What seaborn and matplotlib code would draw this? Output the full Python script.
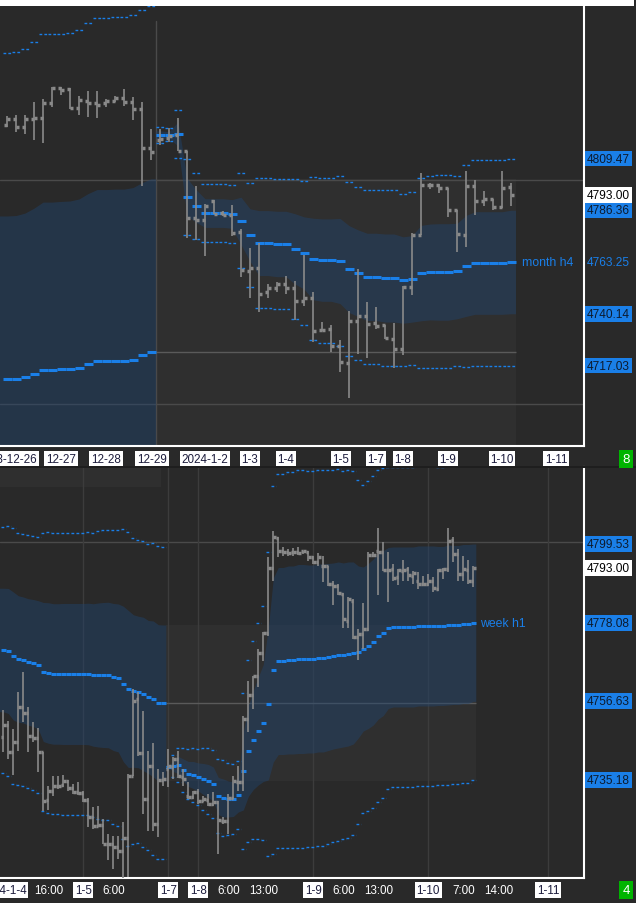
import matplotlib
matplotlib.use('Agg')
import matplotlib.pyplot as plt
import matplotlib.transforms as mtrans
from matplotlib.patches import Rectangle
import seaborn as sns
import numpy as np

# ---------------- month h4 panel (top) ----------------
h4_open = [4824.5, 4827.0, 4823.5, 4827.0, 4827.5, 4834.25, 4841.0, 4840.5, 4832.0, 4835.25,
           4834.25, 4834.25, 4835.25, 4836.5, 4834.75, 4831.5, 4814.25, 4817.75, 4818.5, 4820.0,
           4812.75, 4783.0, 4782.0, 4790.5, 4785.0, 4784.25, 4776.5, 4759.25, 4760.5, 4750.0,
           4751.5, 4753.5, 4751.5, 4745.75, 4747.25, 4733.0, 4733.25, 4725.75, 4718.0, 4737.0,
           4739.0, 4736.0, 4735.0, 4729.0, 4724.5, 4752.0, 4775.25, 4797.5, 4797.5, 4796.25,
           4786.5, 4775.25, 4797.25, 4790.5, 4791.5, 4787.75, 4796.75]
h4_high = [4828.5, 4829.0, 4829.0, 4834.75, 4836.0, 4841.5, 4841.5, 4841.0, 4837.5, 4839.5,
           4839.5, 4836.0, 4837.5, 4840.5, 4837.0, 4834.75, 4822.5, 4822.5, 4823.0, 4827.5,
           4812.75, 4797.25, 4789.25, 4791.0, 4786.0, 4788.75, 4778.0, 4769.5, 4771.75, 4753.5,
           4754.25, 4757.0, 4754.75, 4766.5, 4750.0, 4736.5, 4735.0, 4728.5, 4741.5, 4760.0,
           4745.5, 4743.25, 4735.0, 4736.0, 4752.5, 4776.25, 4803.0, 4798.5, 4798.0, 4796.25,
           4786.5, 4804.0, 4800.0, 4795.0, 4791.5, 4804.0, 4798.5]
h4_low = [4823.5, 4821.25, 4820.5, 4817.75, 4816.5, 4832.5, 4837.75, 4831.5, 4829.0, 4828.0,
          4827.5, 4832.5, 4834.75, 4833.0, 4826.75, 4797.25, 4808.75, 4815.5, 4816.75, 4812.75,
          4774.0, 4773.0, 4766.0, 4784.75, 4783.75, 4775.0, 4756.5, 4747.25, 4741.0, 4747.25,
          4750.0, 4749.0, 4737.5, 4743.5, 4727.5, 4732.5, 4723.0, 4714.0, 4702.5, 4722.25,
          4720.5, 4733.25, 4729.0, 4716.0, 4721.75, 4748.5, 4775.25, 4796.0, 4794.0, 4783.5,
          4767.75, 4770.0, 4784.25, 4788.25, 4786.5, 4787.5, 4788.25]
h4_close = [4827.0, 4823.5, 4827.0, 4827.5, 4834.25, 4841.0, 4840.0, 4832.0, 4835.5, 4834.25,
            4833.5, 4835.25, 4836.5, 4834.75, 4831.5, 4814.25, 4812.5, 4818.25, 4819.5, 4812.75,
            4783.0, 4782.0, 4788.25, 4784.75, 4784.25, 4776.25, 4759.75, 4760.5, 4749.0, 4751.5,
            4753.5, 4751.5, 4745.75, 4747.25, 4732.5, 4733.0, 4725.75, 4718.5, 4737.0, 4739.0,
            4735.5, 4734.75, 4729.25, 4724.5, 4752.0, 4775.25, 4797.5, 4797.5, 4796.25, 4786.5,
            4775.75, 4797.25, 4790.5, 4791.5, 4787.75, 4796.25, 4793.0]
# anchored vwap (month) and its standard deviation, new anchor starts at bar 17
h4_vwap = [4711.0, 4711.0, 4711.9, 4713.2, 4715.0, 4715.0, 4715.5, 4715.5, 4715.9, 4717.7,
           4719.0, 4719.0, 4719.0, 4719.0, 4719.5, 4721.7, 4723.1,
           4820.0, 4820.0, 4820.4, 4792.3, 4788.3, 4785.1, 4785.1, 4785.1, 4784.7, 4781.6,
           4775.3, 4771.7, 4771.7, 4771.3, 4771.3, 4769.1, 4767.3, 4764.6, 4764.1, 4764.1,
           4763.7, 4760.1, 4758.3, 4756.6, 4756.6, 4756.1, 4756.1, 4755.2, 4755.7, 4758.3,
           4758.8, 4758.8, 4758.8, 4759.2, 4761.5, 4762.8, 4762.8, 4762.8, 4762.8, 4763.25]
h4_sigma = [72.8, 73.0, 73.2, 74.1, 75.0, 75.0, 74.8, 75.0, 75.5, 76.1, 76.6, 76.6, 76.8, 76.8,
            77.0, 77.0, 77.3,
            1.8, 1.45, 5.4, 8.4, 7.3, 6.4, 6.4, 6.4, 6.4, 10.6, 11.7, 14.5, 14.5, 14.6, 14.6,
            15.7, 16.1, 18.2, 18.4, 18.4, 19.0, 19.4, 19.3, 19.5, 19.5, 19.65, 19.65, 19.3, 19.3,
            21.3, 21.4, 21.55, 21.55, 21.3, 22.55, 22.9, 22.9, 22.9, 22.9, 23.11]
h4_anchor = 17
h4_ticks = [0, 6, 11, 16.1, 22, 27, 31, 37.1, 41, 44, 49, 55, 61]
h4_tick_labels = ['2023-12-26', '12-27', '12-28', '12-29', '2024-1-2', '1-3', '1-4', '1-5',
                  '1-7', '1-8', '1-9', '1-10', '1-11']

# ---------------- week h1 panel (bottom) ----------------
h1_open = [4747.0, 4750.25, 4742.75, 4745.5, 4755.0, 4753.5, 4747.25, 4746.75, 4742.75, 4729.75,
           4732.25, 4733.5, 4733.75, 4735.0, 4733.0, 4732.0, 4731.75, 4729.75, 4725.0, 4722.75,
           4723.0, 4717.75, 4717.75, 4717.0, 4715.75, 4719.5, 4736.25, 4757.25, 4742.5, 4730.0,
           4739.0, 4723.25, 4735.25, 4738.25, 4738.75, 4741.0, 4736.0, 4730.75, 4730.5, 4732.0,
           4729.5, 4729.75, 4728.75, 4729.25, 4724.0, 4724.0, 4730.25, 4734.75, 4734.75, 4751.75,
           4758.25, 4763.5, 4769.75, 4775.25, 4793.0, 4801.25, 4797.5, 4797.25, 4797.25, 4797.25,
           4797.5, 4797.25, 4796.0, 4794.75, 4793.5, 4793.5, 4788.5, 4788.0, 4786.0, 4778.5,
           4784.0, 4774.25, 4775.0, 4776.25, 4796.5, 4797.75, 4797.25, 4792.5, 4792.75, 4790.5,
           4792.25, 4792.75, 4790.75, 4789.5, 4788.5, 4788.75, 4789.5, 4787.25, 4792.5, 4792.75,
           4800.5, 4796.75, 4791.25, 4792.5, 4789.5]
h1_high = [4754.25, 4751.25, 4749.0, 4759.25, 4764.75, 4755.0, 4751.0, 4749.25, 4742.75, 4733.5,
           4736.25, 4736.25, 4736.5, 4735.25, 4734.0, 4734.75, 4732.25, 4730.25, 4727.75, 4728.0,
           4724.5, 4720.5, 4720.0, 4720.0, 4723.75, 4736.75, 4760.0, 4759.25, 4754.0, 4743.0,
           4745.25, 4738.25, 4737.5, 4743.75, 4741.5, 4743.0, 4738.25, 4734.75, 4732.25, 4732.75,
           4730.75, 4731.5, 4732.0, 4729.5, 4725.0, 4731.5, 4736.25, 4739.0, 4752.75, 4762.25,
           4763.5, 4771.0, 4775.5, 4796.0, 4803.0, 4801.5, 4798.75, 4798.25, 4798.5, 4798.75,
           4797.75, 4797.5, 4796.25, 4797.0, 4796.25, 4793.5, 4789.5, 4788.75, 4786.25, 4785.0,
           4784.5, 4776.25, 4783.5, 4797.25, 4797.25, 4804.0, 4800.0, 4797.25, 4794.0, 4792.75,
           4795.25, 4793.25, 4792.25, 4792.0, 4790.75, 4791.25, 4790.5, 4792.75, 4793.0, 4804.0,
           4801.5, 4798.25, 4796.25, 4795.25, 4793.5]
h1_low = [4742.75, 4741.0, 4736.5, 4743.0, 4751.0, 4742.75, 4745.5, 4737.5, 4726.75, 4727.0,
          4730.75, 4732.75, 4733.25, 4732.25, 4731.5, 4731.0, 4729.25, 4722.5, 4721.75, 4722.5,
          4717.75, 4713.5, 4711.0, 4713.75, 4708.5, 4708.75, 4736.25, 4741.75, 4726.0, 4721.25,
          4721.25, 4719.75, 4733.5, 4733.25, 4735.5, 4735.75, 4733.5, 4730.0, 4730.0, 4728.75,
          4729.25, 4728.0, 4728.0, 4715.0, 4723.25, 4720.5, 4730.0, 4732.25, 4732.25, 4748.25,
          4754.5, 4760.5, 4767.75, 4774.5, 4789.5, 4796.0, 4796.25, 4796.25, 4796.25, 4796.5,
          4796.75, 4795.0, 4794.0, 4793.5, 4789.25, 4788.0, 4783.0, 4785.5, 4776.75, 4776.75,
          4773.75, 4768.0, 4771.0, 4775.75, 4796.0, 4785.5, 4792.25, 4783.75, 4789.5, 4788.25,
          4789.5, 4789.5, 4788.5, 4787.25, 4788.0, 4788.0, 4786.5, 4786.75, 4790.0, 4792.0,
          4794.5, 4789.5, 4789.5, 4788.5, 4787.75]
h1_close = [4750.25, 4742.75, 4745.5, 4755.0, 4753.5, 4747.25, 4746.75, 4742.75, 4729.5, 4732.25,
            4733.5, 4733.5, 4735.0, 4733.0, 4732.0, 4731.75, 4729.75, 4725.0, 4722.75, 4723.0,
            4717.75, 4717.75, 4717.0, 4715.75, 4719.5, 4736.25, 4756.75, 4742.5, 4730.0, 4739.0,
            4723.25, 4735.25, 4735.5, 4739.0, 4741.0, 4736.25, 4735.5, 4730.5, 4732.0, 4729.5,
            4730.0, 4728.75, 4729.25, 4724.25, 4724.0, 4730.25, 4735.0, 4734.75, 4751.75, 4758.25,
            4763.5, 4769.75, 4775.25, 4793.0, 4801.5, 4797.5, 4797.25, 4797.0, 4797.25, 4797.0,
            4797.5, 4796.0, 4794.75, 4796.0, 4793.5, 4788.5, 4788.0, 4786.25, 4779.0, 4784.5,
            4774.25, 4775.0, 4776.25, 4796.5, 4796.5, 4797.25, 4792.5, 4792.5, 4790.25, 4792.5,
            4792.5, 4791.0, 4791.5, 4788.5, 4788.5, 4789.5, 4787.5, 4792.5, 4792.75, 4800.25,
            4796.75, 4791.25, 4792.75, 4789.5, 4793.0]
# anchored vwap (week) and its standard deviation, new anchor starts at bar 33
h1_vwap = [4770.64, 4770.37, 4769.0, 4768.18, 4767.91, 4767.37, 4767.09, 4766.55, 4764.64, 4764.37,
           4764.1, 4764.1, 4764.1, 4764.1, 4764.1, 4764.1, 4764.1, 4764.1,
           4763.82, 4763.82, 4763.82, 4763.82, 4763.28, 4763.01, 4761.37, 4760.01, 4759.46,
           4759.19, 4758.64, 4757.83, 4757.28, 4756.19, 4756.19,
           4738.74, 4739.02, 4739.29, 4737.93, 4736.84, 4736.56, 4736.02, 4735.47, 4734.93,
           4734.11, 4730.84, 4730.29, 4730.02, 4730.02, 4731.11, 4737.65, 4743.11, 4746.10,
           4748.56, 4750.74, 4755.92, 4765.19, 4767.64, 4767.64, 4767.91, 4767.91,
           4768.18, 4768.18, 4768.18, 4768.18, 4768.46, 4768.46, 4768.73, 4769.0, 4769.28,
           4769.28, 4769.55, 4769.82, 4770.09, 4770.91, 4771.73, 4772.82, 4774.45, 4775.27,
           4776.64, 4776.91, 4776.91, 4776.91, 4776.91, 4776.91, 4777.18, 4777.18, 4777.18,
           4777.18, 4777.18, 4777.18, 4777.45, 4777.45, 4777.45, 4777.73, 4777.73, 4778.08]
h1_sigma = [16.83, 17.04, 17.45, 17.24, 17.17, 17.24, 17.31, 17.51, 18.95, 19.15, 19.15, 19.15,
            19.22, 19.22, 19.22, 19.22, 19.22, 19.29, 19.42, 19.63, 19.76, 19.83, 20.04, 20.17,
            21.19, 21.40, 20.79, 20.65, 20.92, 20.85, 21.26, 21.33, 21.26,
            0.14, 1.50, 2.32, 3.00, 3.41, 3.68, 3.82, 4.23, 4.50, 4.63, 5.04, 5.18, 4.91, 4.77,
            4.63, 10.63, 12.40, 13.49, 14.72, 15.95, 20.72, 25.08, 25.49, 25.49, 25.62, 25.62,
            25.76, 25.76, 25.62, 25.62, 25.62, 25.62, 25.49, 25.35, 25.35, 25.08, 25.08, 24.81,
            23.44, 22.35, 22.49, 22.63, 22.63, 22.49, 21.94,
            21.81, 21.81, 21.81, 21.81, 21.81, 21.81, 21.81, 21.81, 21.81, 21.67, 21.67, 21.81,
            21.67, 21.67, 21.67, 21.67, 21.45]
h1_anchor = 33
h1_older_band = [4815.0, 4830.0]
h1_ticks = [0, 9, 16, 22, 33, 39, 45, 52, 62, 68, 75, 85, 92, 99, 109]
h1_tick_labels = ['2024-1-4', '16:00', '1-5', '6:00', '1-7', '1-8', '6:00', '13:00', '1-9',
                  '6:00', '13:00', '1-10', '7:00', '14:00', '1-11']

BG = '#292929'
BOX = '#2f2f2f'
BLUE = '#1a7fe8'
BAND = '#20446f'
BARC = '#8a8a8a'
LVL = '#4a4a4a'

sns.set_theme(style='dark', rc={'axes.facecolor': BG, 'figure.facecolor': BG,
                                'grid.color': LVL, 'grid.linewidth': 1.0,
                                'axes.axisbelow': True})
plt.rcParams['font.family'] = ['Liberation Sans', 'DejaVu Sans']

fig = plt.figure(figsize=(6.36, 9.04), dpi=100)
ax1 = fig.add_axes([0, 1 - 447 / 904, 584 / 636, 440 / 904])
ax2 = fig.add_axes([0, 1 - 879 / 904, 584 / 636, 411 / 904])


def draw_panel(ax, o, h, l, c, mid, sig, split, tick_w):
    o, h, l, c = map(np.asarray, (o, h, l, c))
    mid, sig = np.asarray(mid), np.asarray(sig)
    n = len(o)
    x = np.arange(n)
    # previous period level box and vwap line carried forward
    pm, ps = mid[split - 1], sig[split - 1]
    ax.add_patch(Rectangle((split - 0.5, pm - ps), n - split, 2 * ps,
                           fc=BOX, ec='none', zorder=0.2))
    ax.hlines(pm, split - 0.5, n - 0.5, color='#5a5a5a', lw=1, zorder=1)
    # bands
    for seg in (slice(0, split), slice(split, n)):
        xs, m, s = x[seg], mid[seg], sig[seg]
        left = -1.5 if xs[0] == 0 else xs[0] - 0.5
        xx = np.r_[left, xs, xs[-1] + 0.5]
        mm = np.r_[m[0], m, m[-1]]
        ss = np.r_[s[0], s, s[-1]]
        ax.fill_between(xx, mm - ss, mm + ss, color=BAND, alpha=0.45, lw=0, zorder=2)
    ax.hlines(mid, x - 0.5, x + 0.5, color=BLUE, lw=2.2, zorder=4)
    for k in (2, -2):
        col = ax.hlines(mid + k * sig, x - 0.5, x + 0.5, color=BLUE, lw=1, zorder=4)
        col.set_linestyle((0, (2, 1.5)))
    # ohlc bars
    ax.vlines(x, l, h, color=BARC, lw=1.2, zorder=5)
    ax.hlines(o, x - tick_w, x, color=BARC, lw=2.5, zorder=5)
    ax.hlines(c, x, x + tick_w, color=BARC, lw=2.5, zorder=5)
    return mid[-1], sig[-1], c[-1]


def style_axes(ax, ticks, labels, label_y, xlim, ylim):
    for side in ('left', 'top'):
        ax.spines[side].set_visible(False)
    for side in ('right', 'bottom'):
        ax.spines[side].set_color('white')
        ax.spines[side].set_linewidth(1.5)
    ax.set_yticks([4700, 4800])
    ax.yaxis.grid(True)
    ax.xaxis.grid(False)
    ax.set_xticks(ticks)
    ax.tick_params(axis='x', colors='white', length=4, width=1, direction='out',
                   labelbottom=False)
    ax.tick_params(axis='y', length=0, labelleft=False, labelright=False)
    ax.set_xlim(*xlim)
    ax.set_ylim(*ylim)
    tr = mtrans.blended_transform_factory(ax.transData, ax.transAxes)
    for t, s in zip(ticks, labels):
        boxed = ':' not in s
        ax.text(t, label_y, s, transform=tr, ha='center', va='center', fontsize=8.4,
                color='#1c1c3c' if boxed else 'white', clip_on=False,
                bbox=dict(boxstyle='square,pad=0.15', fc='white', ec='none') if boxed else None)


def price_labels(ax, mid, sig, last, name, name_x):
    lo, hi = ax.get_ylim()
    tr = mtrans.blended_transform_factory(ax.transAxes, ax.transData)
    for k in (2, 1, 0, -1, -2):
        v = round(mid + k * sig, 2)
        if not lo < v < hi:
            continue
        boxed = not (k == 0 and name == 'month h4')
        ax.text(1.005, v, f'{v:.2f}', transform=tr, ha='left', va='center', fontsize=8.6,
                color='#0d1b2e' if boxed else BLUE, clip_on=False,
                bbox=dict(boxstyle='square,pad=0.16', fc=BLUE, ec='none') if boxed else None)
    ax.text(1.005, last, f'{last:.2f}', transform=tr, ha='left', va='center', fontsize=8.6,
            color='black', clip_on=False, zorder=6,
            bbox=dict(boxstyle='square,pad=0.16', fc='white', ec='none'))
    ax.text(name_x, mid, name, ha='left', va='center', fontsize=8.8, color=BLUE)


m_mid, m_sig, m_last = draw_panel(ax1, h4_open, h4_high, h4_low, h4_close,
                                  h4_vwap, h4_sigma, h4_anchor, 0.36)
ax1.axvline(h4_anchor - 0.5, ymax=0.966, color=LVL, lw=1, zorder=0.6)
style_axes(ax1, h4_ticks, h4_tick_labels, -0.0295, (-0.78, 64.11), (4681.08, 4877.58))
price_labels(ax1, m_mid, m_sig, m_last, 'month h4', len(h4_open) + 0.2)

w_mid, w_sig, w_last = draw_panel(ax2, h1_open, h1_high, h1_low, h1_close,
                                  h1_vwap, h1_sigma, h1_anchor, 0.5)
ax2.add_patch(Rectangle((-1, h1_older_band[0]), h1_anchor - 0.5, h1_older_band[1] - h1_older_band[0],
                        fc=BOX, ec='none', zorder=0.2))
for t, s in zip(h1_ticks[1:], h1_tick_labels[1:]):
    if ':' not in s:
        ax2.axvline(t, color='#3c3c3c', lw=1, zorder=0.6)
style_axes(ax2, h1_ticks, h1_tick_labels, -0.0292, (-0.66, 116.14), (4708.48, 4820.52))
price_labels(ax2, w_mid, w_sig, w_last, 'week h1', len(h1_open) + 0.3)

# frame details
fig.add_artist(Rectangle((0, 1 - 7 / 904), 634 / 636, 6 / 904, transform=fig.transFigure,
                         fc='white', ec='none'))
fig.add_artist(Rectangle((0, 1 - 469 / 904), 1, 2 / 904, transform=fig.transFigure,
                         fc='#1e1e1e', ec='none'))
for yy, s in ((460, '8'), (891, '4')):
    fig.text(626 / 636, 1 - yy / 904, s, ha='center', va='center', fontsize=9.5, color='white',
             bbox=dict(boxstyle='square,pad=0.25', fc='#00b400', ec='none'))

fig.savefig('out.png', dpi=100, facecolor=fig.get_facecolor())
